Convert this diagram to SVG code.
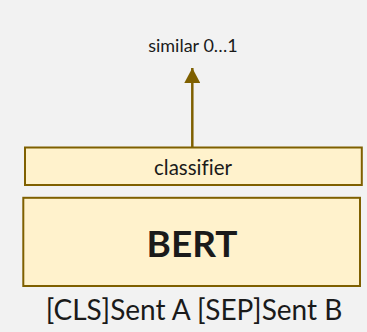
<svg xmlns="http://www.w3.org/2000/svg" width="367" height="332" viewBox="0 0 367 332">
<defs>
<style>
.box{fill:#fff2cc;stroke:#7f6000;stroke-width:2}
.t{font-family:Lato,"Liberation Sans",sans-serif;fill:#1a1a1a;text-anchor:middle;font-variant-ligatures:none}
.edge{stroke:#7f6000;stroke-width:2.5;fill:none}
</style>
<marker id="ah" markerUnits="userSpaceOnUse" markerWidth="16" markerHeight="16" viewBox="0 0 16 16" refX="15" refY="8" orient="auto">
<path d="M0,0 L15,8 L0,16 Z" fill="#7f6000"/>
</marker>
</defs>
<rect width="367" height="332" fill="#f2f2f2"/>
<g id="connectors">
<line class="edge" x1="192.3" y1="147" x2="192.3" y2="68" marker-end="url(#ah)"/>
</g>
<g id="classifier">
<rect class="box" x="25" y="147.5" width="336.8" height="37.5"/>
<text class="t" x="193" y="175" font-size="20.5">classifier</text>
</g>
<g id="bert">
<rect class="box" x="23.3" y="197.8" width="336.7" height="88.2"/>
<text class="t" x="192" y="256.7" font-size="37" font-weight="bold">BERT</text>
</g>
<g id="output">
<text class="t" x="193" y="51.7" font-size="18">similar 0…1</text>
</g>
<g id="input">
<text class="t" x="194" y="320" font-size="28">[CLS]Sent A [SEP]Sent B</text>
</g>
</svg>
